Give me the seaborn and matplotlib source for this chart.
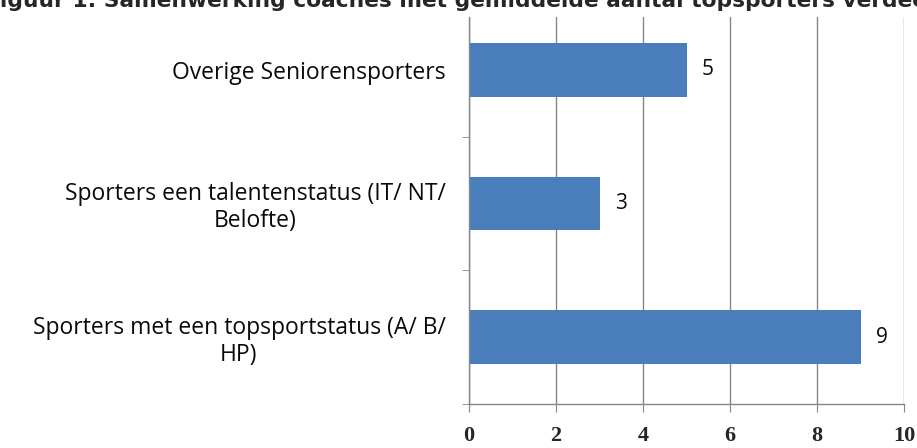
import pandas as pd
import seaborn as sns
import matplotlib.pyplot as plt

categories = ["Overige Seniorensporters",
              "Sporters een talentenstatus (IT/ NT/\nBelofte)",
              "Sporters met een topsportstatus (A/ B/\nHP)"]
values = [5, 3, 9]
xticks = [0, 2, 4, 6, 8, 10]
title = "Figuur 1: Samenwerking coaches met gemiddelde aantal topsporters verdeeld over statussen"

sns.set_style("white")
plt.rcParams["font.family"] = ["Open Sans", "DejaVu Sans"]

grey = "#868686"
fig = plt.figure(figsize=(9.17, 4.48), dpi=100)
ax = fig.add_axes([469/917, 1-404/448, (904-469)/917, (404-17)/448])

df = pd.DataFrame({"cat": categories, "val": values})
sns.barplot(data=df, x="val", y="cat", orient="h", color="#4a7ebb",
            saturation=1, width=0.4, linewidth=0, ax=ax)

ax.set_xlim(0, 10)
ax.set_ylim(2.5, -0.5 + 14/133.5)
ax.set_xlabel("")
ax.set_ylabel("")
ax.set_xticks(xticks)
ax.set_xticklabels([str(t) for t in xticks], family="Liberation Serif",
                   fontweight="bold", fontsize=16)
ax.xaxis.grid(True, color=grey, linewidth=1)
ax.set_axisbelow(True)

for s in ["top", "right"]:
    ax.spines[s].set_visible(False)
for s in ["left", "bottom"]:
    ax.spines[s].set_color(grey)
    ax.spines[s].set_linewidth(1)

ax.tick_params(axis="x", direction="out", length=6, color=grey, pad=10, bottom=True)
ax.tick_params(axis="y", which="major", length=0, pad=17, labelsize=16.5, labelcolor="#0a0a0a")
ax.set_yticks([0.5, 1.5, 2.5], minor=True)
ax.tick_params(axis="y", which="minor", direction="out", length=5, color=grey, left=True)
for lab in ax.get_yticklabels():
    lab.set_multialignment("center")
    lab.set_linespacing(1.15)

ax.bar_label(ax.containers[0], padding=11, fontsize=15, color="#0a0a0a")

fig.text(-15/917, 1-7/448, title, family="DejaVu Sans", fontweight="bold",
         fontsize=15.7, va="baseline", ha="left")

fig.savefig("out.png", dpi=100)
plt.close()
